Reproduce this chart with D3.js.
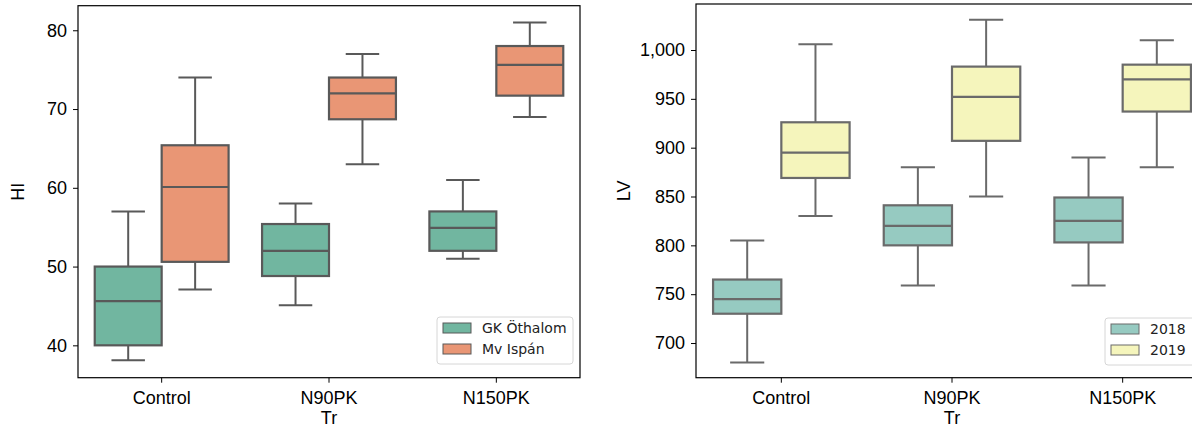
<!DOCTYPE html>
<html>
<head>
<meta charset="utf-8">
<script src="https://cdn.jsdelivr.net/npm/d3@7/dist/d3.min.js"></script>
<style>
  html, body { margin: 0; padding: 0; background: #fff; overflow: hidden; }
  svg { display: block; }
</style>
</head>
<body>
<svg id="chart" width="1192" height="429"></svg>
<script>
// ---------- data ----------
const categories = ["Control", "N90PK", "N150PK"];

// Left panel: HI by treatment and cultivar  [low whisker, Q1, median, Q3, high whisker]
const hiSeries = ["GK Öthalom", "Mv Ispán"];
const hiGK = [[38.1, 40.0, 45.6, 50.0, 57.0], [45.1, 48.8, 52.0, 55.4, 58.0], [51.0, 52.0, 54.9, 57.0, 61.0]];
const hiMv = [[47.1, 50.6, 60.1, 65.4, 74.0], [63.0, 68.7, 72.0, 74.0, 77.0], [69.0, 71.7, 75.6, 78.0, 81.0]];
const hiTicks = [40, 50, 60, 70, 80];

// Right panel: LV by treatment and year
const lvSeries = ["2018", "2019"];
const lv2018 = [[680, 730, 745, 765, 805], [759, 800, 820, 841, 880], [759, 803, 825, 849, 890]];
const lv2019 = [[830, 869, 895, 926, 1006], [850, 907, 952, 983, 1031], [880, 937, 970, 985, 1010]];
const lvTicks = [700, 750, 800, 850, 900, 950, 1000];

// ---------- drawing ----------
const svg = d3.select("#chart");
const tickFont = "'Liberation Sans', Arial, sans-serif";
const legendFont = "'DejaVu Sans', sans-serif";

function panel(opts) {
  const { x0, x1, y0, y1, yDomain, ticks, tickFmt, series, data, colors, lineColor,
          yLabel, yLabelX, legend } = opts;
  const g = svg.append("g");
  const x = d3.scaleBand().domain(categories).range([x0, x1]);
  const y = d3.scaleLinear().domain(yDomain).range([y1, y0]);
  const hue = d3.scaleBand().domain(series).range([0, x.bandwidth() * 0.8]);

  // boxes
  series.forEach((s, si) => {
    const vals = data[si];
    categories.forEach((c, ci) => {
      const [lo, q1, med, q3, hi] = vals[ci];
      const bx = x(c) + x.bandwidth() * 0.1 + hue(s);
      const bw = hue.bandwidth();
      const cx = bx + bw / 2;
      const cw = bw / 2;
      const bg = g.append("g");
      // whiskers
      bg.append("line").attr("x1", cx).attr("x2", cx).attr("y1", y(q1)).attr("y2", y(lo))
        .attr("stroke", lineColor).attr("stroke-width", 2);
      bg.append("line").attr("x1", cx).attr("x2", cx).attr("y1", y(q3)).attr("y2", y(hi))
        .attr("stroke", lineColor).attr("stroke-width", 2);
      bg.append("line").attr("x1", cx - cw / 2).attr("x2", cx + cw / 2).attr("y1", y(lo)).attr("y2", y(lo))
        .attr("stroke", lineColor).attr("stroke-width", 2);
      bg.append("line").attr("x1", cx - cw / 2).attr("x2", cx + cw / 2).attr("y1", y(hi)).attr("y2", y(hi))
        .attr("stroke", lineColor).attr("stroke-width", 2);
      // box
      bg.append("rect").attr("x", bx).attr("y", y(q3)).attr("width", bw).attr("height", y(q1) - y(q3))
        .attr("fill", colors[si]).attr("stroke", lineColor).attr("stroke-width", 2.2);
      // median
      bg.append("line").attr("x1", bx).attr("x2", bx + bw).attr("y1", y(med)).attr("y2", y(med))
        .attr("stroke", lineColor).attr("stroke-width", 2.2);
    });
  });

  // frame
  g.append("rect").attr("x", x0).attr("y", y0).attr("width", x1 - x0).attr("height", y1 - y0)
    .attr("fill", "none").attr("stroke", "#000").attr("stroke-width", 1.2);

  // axes
  const yAxis = g.append("g").attr("transform", `translate(${x0},0)`)
    .call(d3.axisLeft(y).tickValues(ticks).tickFormat(tickFmt).tickSize(5).tickPadding(6));
  yAxis.select(".domain").remove();
  yAxis.selectAll("text").attr("font-family", tickFont).attr("font-size", 18).attr("fill", "#000");
  yAxis.selectAll("line").attr("stroke", "#000");

  const xAxis = g.append("g").attr("transform", `translate(0,${y1})`)
    .call(d3.axisBottom(x).tickSize(5).tickPadding(9));
  xAxis.select(".domain").remove();
  xAxis.selectAll("text").attr("font-family", tickFont).attr("font-size", 18).attr("fill", "#000");
  xAxis.selectAll("line").attr("stroke", "#000");

  // axis labels
  g.append("text").attr("transform", `translate(${yLabelX},${(y0 + y1) / 2}) rotate(-90)`)
    .attr("text-anchor", "middle").attr("font-family", tickFont).attr("font-size", 18).text(yLabel);
  g.append("text").attr("x", (x0 + x1) / 2).attr("y", 424)
    .attr("text-anchor", "middle").attr("font-family", tickFont).attr("font-size", 18).text("Tr");

  // legend
  const lg = g.append("g");
  lg.append("rect").attr("x", legend.x).attr("y", legend.y).attr("width", legend.w).attr("height", legend.h)
    .attr("rx", 3).attr("fill", "#fff").attr("fill-opacity", 0.85).attr("stroke", "#d6d6d6").attr("stroke-width", 1);
  series.forEach((s, si) => {
    const ry = legend.y + 6 + si * 21;
    lg.append("rect").attr("x", legend.x + 6).attr("y", ry).attr("width", 28).attr("height", 10)
      .attr("fill", colors[si]).attr("stroke", lineColor).attr("stroke-width", 1);
    lg.append("text").attr("x", legend.x + 45).attr("y", ry + 10).attr("font-family", legendFont)
      .attr("font-size", 14).attr("fill", "#222").text(s);
  });
}

panel({
  x0: 78, x1: 580, y0: 5.7, y1: 377.7,
  yDomain: [35.89, 83.12], ticks: hiTicks, tickFmt: d3.format("d"),
  series: hiSeries, data: [hiGK, hiMv], colors: ["#71b6a0", "#e99675"], lineColor: "#595959",
  yLabel: "HI", yLabelX: 24,
  legend: { x: 437, y: 317, w: 136, h: 47 }
});

panel({
  x0: 696, x1: 1208, y0: 4, y1: 377.7,
  yDomain: [664.5, 1047.1], ticks: lvTicks, tickFmt: d3.format(","),
  series: lvSeries, data: [lv2018, lv2019], colors: ["#96cac1", "#f5f5bc"], lineColor: "#6a6a6a",
  yLabel: "LV", yLabelX: 630,
  legend: { x: 1105, y: 318, w: 100, h: 47 }
});
</script>
</body>
</html>
